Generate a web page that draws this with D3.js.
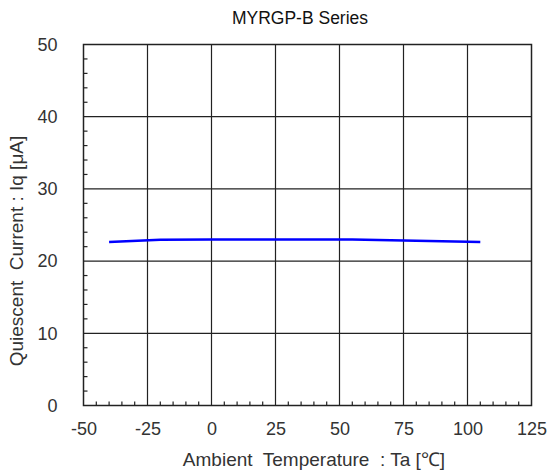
<!DOCTYPE html>
<html>
<head>
<meta charset="utf-8">
<script src="https://cdn.jsdelivr.net/npm/d3@7"></script>
<style>
  html, body { margin: 0; padding: 0; background: #fff; }
  svg { display: block; font-family: "Liberation Sans", Arial, sans-serif; }
</style>
</head>
<body>
<svg id="chart" width="548" height="472"></svg>
<script>
const title = "MYRGP-B Series";
const xLabel = "Ambient  Temperature  : Ta [℃]";
const yLabel = "Quiescent  Current : Iq [μA]";
const xTicks = [-50, -25, 0, 25, 50, 75, 100, 125];
const yTicks = [0, 10, 20, 30, 40, 50];
const temperature = [-40, -20, 0, 25, 55, 75, 105];
const current = [22.65, 22.95, 23.0, 23.0, 23.0, 22.85, 22.65];

const svg = d3.select("#chart");
const m = { left: 83.5, right: 531.5, top: 44.5, bottom: 405.5 };
const x = d3.scaleLinear().domain([-50, 125]).range([m.left, m.right]);
const y = d3.scaleLinear().domain([0, 50]).range([m.bottom, m.top]);

// grid
const g = svg.append("g");
g.selectAll(".vg").data(xTicks.slice(1, -1)).enter().append("line")
  .attr("x1", d => x(d)).attr("x2", d => x(d)).attr("y1", m.top).attr("y2", m.bottom)
  .attr("stroke", "#222").attr("stroke-width", 1.2);
g.selectAll(".hg").data(yTicks.slice(1, -1)).enter().append("line")
  .attr("y1", d => y(d)).attr("y2", d => y(d)).attr("x1", m.left).attr("x2", m.right)
  .attr("stroke", "#222").attr("stroke-width", 1.2);

// minor ticks
const xMinor = d3.range(-50, 125.01, 5).filter(v => v % 25 !== 0);
g.selectAll(".xm").data(xMinor).enter().append("line")
  .attr("x1", d => x(d)).attr("x2", d => x(d)).attr("y1", m.bottom).attr("y2", m.bottom - 4)
  .attr("stroke", "#222").attr("stroke-width", 1.2);
const yMinor = d3.range(0, 50.01, 2).filter(v => v % 10 !== 0);
g.selectAll(".ym").data(yMinor).enter().append("line")
  .attr("y1", d => y(d)).attr("y2", d => y(d)).attr("x1", m.left).attr("x2", m.left + 4)
  .attr("stroke", "#222").attr("stroke-width", 1.2);

// frame
svg.append("rect").attr("x", m.left).attr("y", m.top)
  .attr("width", m.right - m.left).attr("height", m.bottom - m.top)
  .attr("fill", "none").attr("stroke", "#222").attr("stroke-width", 1.5);

// axes labels via d3 axes
const xAxis = svg.append("g").attr("transform", `translate(0,${m.bottom})`)
  .call(d3.axisBottom(x).tickValues(xTicks).tickSize(0).tickPadding(17).tickFormat(d => String(d)));
const yAxis = svg.append("g").attr("transform", `translate(${m.left},0)`)
  .call(d3.axisLeft(y).tickValues(yTicks).tickSize(0).tickPadding(26).tickFormat(d => String(d)));
[xAxis, yAxis].forEach(a => {
  a.select(".domain").remove();
  a.selectAll("text").attr("font-size", 18).attr("fill", "#333")
    .attr("font-family", "'Liberation Sans', Arial, sans-serif");
});

// line
svg.append("path")
  .datum(temperature.map((t, i) => [t, current[i]]))
  .attr("fill", "none").attr("stroke", "#0000ff").attr("stroke-width", 2.5)
  .attr("d", d3.line().x(d => x(d[0])).y(d => y(d[1])));

// titles
svg.append("text").attr("x", 300).attr("y", 24).attr("text-anchor", "middle")
  .attr("font-size", 17.5).attr("fill", "#111").text(title);
svg.append("text").attr("x", 314).attr("y", 466).attr("text-anchor", "middle")
  .attr("font-size", 19).attr("fill", "#333")
  .style("white-space", "pre").text(xLabel);
svg.append("text").attr("transform", "translate(23,251) rotate(-90)").attr("text-anchor", "middle")
  .attr("font-size", 19).attr("fill", "#333")
  .style("white-space", "pre").text(yLabel);
</script>
</body>
</html>
